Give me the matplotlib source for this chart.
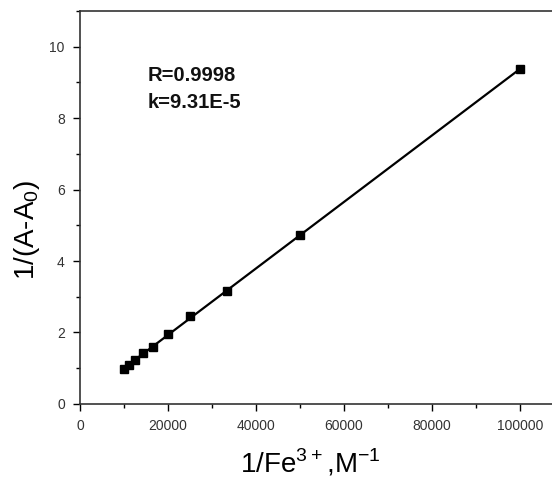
import numpy as np
import matplotlib
matplotlib.use("Agg")
import matplotlib.pyplot as plt
from matplotlib.ticker import MultipleLocator

# ---------- data ----------
inv_fe = [10000, 11111, 12500, 14286, 16667, 20000, 25000, 33333, 50000, 100000]
inv_abs = [0.97, 1.10, 1.23, 1.42, 1.60, 1.95, 2.45, 3.15, 4.72, 9.38]
r_text = "R=0.9998"
k_text = "k=9.31E-5"

plt.rcParams['font.family'] = ['Liberation Sans', 'DejaVu Sans']
plt.rcParams['mathtext.fontset'] = 'custom'
plt.rcParams['mathtext.rm'] = 'Liberation Sans'

fig = plt.figure(figsize=(5.52, 4.78), dpi=100)
ax = fig.add_axes([0.145, 0.155, 0.877, 0.822])

# linear fit
slope, icpt = np.polyfit(inv_fe, inv_abs, 1)
xf = np.array([inv_fe[0], inv_fe[-1]])
ax.plot(xf, slope * xf + icpt, color='black', lw=1.6, zorder=2)
ax.plot(inv_fe, inv_abs, 's', color='black', ms=6, zorder=3)

ax.set_xlim(0, 110000)
ax.set_ylim(0, 11)
ax.xaxis.set_major_locator(MultipleLocator(20000))
ax.xaxis.set_minor_locator(MultipleLocator(10000))
ax.yaxis.set_major_locator(MultipleLocator(2))
ax.yaxis.set_minor_locator(MultipleLocator(1))

ax.tick_params(which='major', direction='out', length=5, width=1,
               labelsize=10, labelcolor='#333333', pad=6)
ax.tick_params(which='minor', direction='out', length=3, width=1)
for s in ax.spines.values():
    s.set_linewidth(1.2)
    s.set_color('#333333')

ax.set_xlabel(r'1/Fe$^{\mathrm{3+}}$,M$^{\mathrm{-1}}$', fontsize=20)
ax.set_ylabel(r'1/(A-A$_{\mathrm{0}}$)', fontsize=20)
ax.xaxis.set_label_coords(0.475, -0.11)
ax.yaxis.set_label_coords(-0.078, 0.443)

ax.text(0.14, 0.86, r_text + "\n" + k_text, transform=ax.transAxes,
        fontsize=14.5, fontweight='bold', va='top', ha='left',
        linespacing=1.5, color='#111111')

fig.savefig('out.png', dpi=100)
